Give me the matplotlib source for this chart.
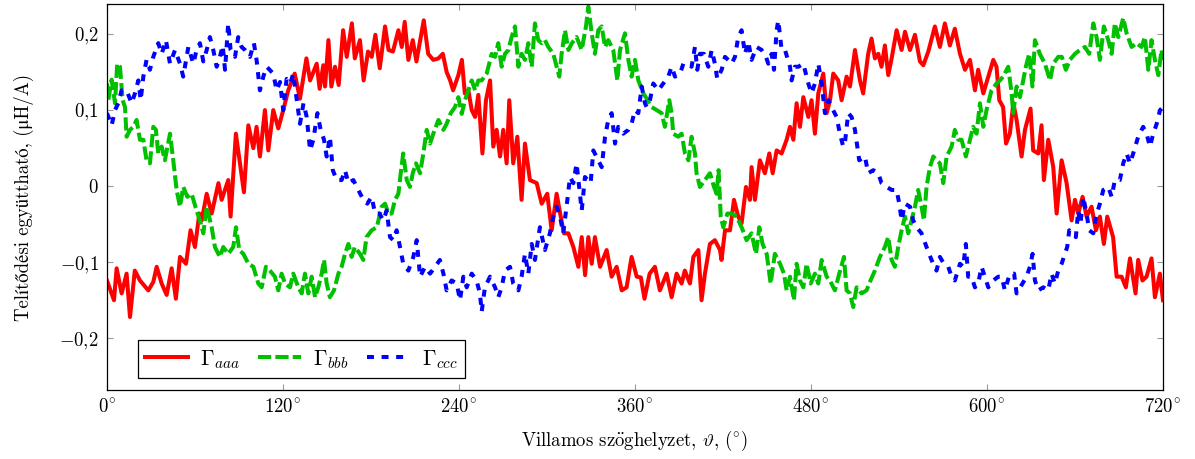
import numpy as np
import matplotlib
matplotlib.use("Agg")
import matplotlib.pyplot as plt

plt.rcParams['font.family'] = ['cmr10', 'STIXGeneral']
plt.rcParams['mathtext.fontset'] = 'cm'
plt.rcParams['axes.unicode_minus'] = False
plt.rcParams['lines.scale_dashes'] = False

# Gamma_aaa (red)
red_deg = [0, 4.8, 6.6, 10, 13.4, 15.7, 19, 22.5, 28.2, 31.6, 33.9, 37.3, 40.7, 44.1, 47, 49.8, 53.9, 57, 60, 63,
           64.6, 68, 71.4, 76, 78.2, 82.7, 84.3, 87.9, 93.4, 96.4, 99.8, 102, 104.3, 107.7, 110, 113.4, 116.8, 120.2, 123.6, 128,
           131.6, 136, 138.5, 143, 145, 147.5, 148.7, 151, 153, 155.5, 158, 161, 163.5, 167, 169, 172.5, 175, 178, 180.5, 183,
           186, 189.6, 192, 195, 198.7, 201, 203, 205.5, 208.5, 211, 216, 219, 222.5, 226, 229, 231.6, 234, 236, 239.6, 242,
           244, 246.4, 248.7, 251, 253.2, 256, 258.4, 261.2, 263.4, 265.7, 268, 270.2, 272.5, 274.3, 277, 279.8, 282.7, 285, 288.4, 293,
           296.4, 300.2, 303.2, 306.6, 309, 311.6, 314.6, 318, 321.4, 323.7, 326, 328.2, 330.5, 332.7, 336.2, 340.7, 344.1, 347.5, 351, 354.3,
           357.7, 361.2, 364, 366.5, 370, 373.6, 377, 381.6, 385, 388.4, 391.8, 394, 397.5, 399.8, 403.2, 405.4, 407.7, 411.1, 414.5, 418,
           419, 421.4, 424.8, 427.5, 430.4, 432.7, 435.7, 438.4, 439.5, 441.8, 445.2, 448.6, 451.6, 453.9, 456.6, 460, 463.4, 465.7, 468, 470.2,
           472.5, 474.8, 478.2, 480.4, 482.7, 485, 488.4, 490.7, 493, 495.2, 498.6, 500.9, 504.3, 506.6, 510, 513.4, 515.6, 519, 521.3, 523.6,
           525.9, 528.1, 530.4, 532.7, 535, 538.4, 541.8, 544.1, 547.5, 550.9, 554.3, 556.6, 560, 564.5, 567.9, 571.3, 574.7, 578.1, 581.6, 585,
           588.4, 591.8, 594, 597.5, 600.9, 604.3, 606.5, 608.4, 611, 613, 615.6, 618, 620.2, 623.6, 625.9, 629.7, 631.5, 635, 637.2, 638.8,
           641.8, 645.2, 647.5, 650.9, 654.3, 657.7, 660, 662.2, 665.2, 667.9, 671.3, 674.3, 677, 679.7, 682, 686, 688.4, 691.8, 694.7, 697.5,
           701.3, 703.1, 706, 708.8, 712.2, 714.5, 717.9, 720]
red_val = [-0.124, -0.150, -0.108, -0.141, -0.115, -0.172, -0.111, -0.124, -0.137, -0.126, -0.106, -0.128, -0.143, -0.108, -0.148, -0.093, -0.102, -0.058, -0.080, -0.036,
           -0.045, -0.010, -0.036, 0.004, -0.018, 0.008, -0.040, 0.069, -0.008, 0.080, 0.050, 0.078, 0.039, 0.100, 0.047, 0.100, 0.076, 0.100, 0.126, 0.148,
           0.115, 0.168, 0.139, 0.161, 0.128, 0.159, 0.131, 0.192, 0.131, 0.157, 0.133, 0.205, 0.170, 0.214, 0.168, 0.192, 0.139, 0.177, 0.170, 0.199,
           0.155, 0.210, 0.179, 0.177, 0.205, 0.183, 0.216, 0.166, 0.192, 0.164, 0.218, 0.174, 0.166, 0.168, 0.174, 0.150, 0.139, 0.126, 0.146, 0.166,
           0.122, 0.126, 0.100, 0.091, 0.120, 0.043, 0.113, 0.139, 0.052, 0.074, 0.039, 0.074, 0.030, 0.113, 0.030, 0.065, -0.018, 0.056, 0.008, 0.004,
           -0.023, -0.010, -0.058, -0.010, -0.036, -0.062, -0.062, -0.080, -0.106, -0.067, -0.117, -0.067, -0.102, -0.067, -0.106, -0.084, -0.119, -0.106, -0.137, -0.133,
           -0.093, -0.119, -0.120, -0.148, -0.115, -0.106, -0.137, -0.115, -0.146, -0.115, -0.128, -0.111, -0.128, -0.093, -0.084, -0.150, -0.115, -0.076, -0.071, -0.084,
           -0.097, -0.058, -0.058, -0.018, -0.040, -0.049, -0.001, -0.018, 0.025, -0.018, 0.034, 0.017, 0.043, 0.017, 0.047, 0.043, 0.061, 0.078, 0.061, 0.109,
           0.078, 0.117, 0.091, 0.113, 0.069, 0.122, 0.148, 0.096, 0.113, 0.148, 0.139, 0.113, 0.144, 0.131, 0.179, 0.139, 0.122, 0.174, 0.194, 0.168,
           0.174, 0.157, 0.185, 0.146, 0.168, 0.205, 0.179, 0.203, 0.179, 0.199, 0.164, 0.159, 0.177, 0.210, 0.183, 0.214, 0.185, 0.207, 0.174, 0.153,
           0.166, 0.126, 0.153, 0.122, 0.144, 0.166, 0.157, 0.113, 0.104, 0.056, 0.069, 0.109, 0.087, 0.039, 0.074, 0.102, 0.047, 0.043, 0.080, 0.008,
           0.061, 0.025, -0.036, 0.034, 0.004, -0.045, -0.018, -0.036, -0.014, -0.040, -0.027, -0.058, -0.040, -0.076, -0.040, -0.067, -0.119, -0.119, -0.133, -0.095,
           -0.141, -0.097, -0.124, -0.119, -0.095, -0.146, -0.115, -0.150]

# Gamma_bbb (green)
green_deg = [0, 0.9, 3.2, 5.5, 7, 8.9, 10.7, 12.3, 13.4, 15.7, 18, 20.2, 22.5, 24.8, 27, 29.3, 31.6, 33.4, 35, 37.3,
             39.5, 43, 45.2, 47.5, 49.8, 52, 54.8, 57.7, 61.1, 63.4, 65.7, 68, 71.4, 73.6, 77, 79.3, 82.7, 86.1, 88, 90.2,
             93, 96.4, 99.8, 103.2, 105.5, 108.4, 111.1, 114.5, 116.8, 119.1, 121.4, 124.8, 127, 130.5, 132.8, 135, 137.3, 139.6, 141.9, 144.1,
             146.4, 148, 149.8, 152, 154.8, 157.8, 160, 162.3, 164.6, 166.8, 169, 172.5, 174.8, 177, 180.5, 184, 187.3, 189.6, 191.9, 194.1,
             196.4, 198.7, 200.3, 202, 204.4, 206.6, 208.5, 210.7, 213.5, 215.7, 218, 220.3, 222.5, 226, 229.4, 231.6, 234.4, 237.3, 239.6, 241.9,
             244.1, 246.4, 248.7, 251, 253.2, 255.5, 258.9, 262.3, 264.6, 266.8, 269.1, 271.4, 273.7, 275.9, 278.2, 280.5, 282.7, 285, 287.3, 289.6,
             291.8, 294.1, 296.4, 298.6, 300.9, 304.3, 306.6, 308.4, 310, 312.3, 314.6, 317, 320.2, 323.7, 326.6, 328.2, 330.5, 332.7, 335, 337.3,
             339.6, 341.8, 345.2, 348, 349.8, 353.2, 355.5, 357.7, 360, 362.3, 365.7, 368, 371.4, 374.8, 378.2, 380.4, 383.4, 385, 386.1, 389.5,
             391.8, 394.1, 396.4, 398.6, 400.9, 402, 404.3, 407.7, 411.1, 413.9, 415.7, 417, 418.5, 420.2, 423, 425.9, 429.3, 432.7, 436.1, 439.5,
             442.5, 444.8, 447, 449.8, 452.5, 455.4, 458.9, 461.6, 463.4, 465.7, 468.4, 470.2, 472.5, 474.8, 477, 479.8, 482.7, 485, 487.3, 490.7,
             492.9, 496.3, 499.3, 502.5, 504.3, 506.6, 508.8, 511.1, 514.5, 517.9, 520.6, 523.6, 527, 530.4, 532.7, 535, 537.2, 539.5, 541.8, 544.1,
             546.3, 548.6, 550.9, 553.1, 555.4, 557, 558.8, 561.1, 563.4, 565.6, 567.9, 570.2, 572.5, 575.9, 578.1, 580.4, 582.7, 585.6, 588.4, 590.6,
             592.9, 595.2, 597.5, 599.7, 603.1, 606.5, 608.8, 611, 614.5, 616.8, 617.9, 620.2, 622.5, 624.3, 626.5, 628.8, 631, 632.7, 636, 639.5,
             643, 645.2, 648.6, 651, 653.8, 656.5, 660, 663.4, 666.8, 669.7, 672.5, 674.7, 677, 679.7, 682.7, 685, 687.2, 689.5, 692.9, 695.2,
             698.6, 702, 705.4, 707.7, 710, 712.2, 714.5, 716.8, 719, 720]
green_val = [0.135, 0.113, 0.140, 0.109, 0.161, 0.157, 0.113, 0.104, 0.065, 0.074, 0.078, 0.087, 0.061, 0.061, 0.034, 0.030, 0.078, 0.074, 0.043, 0.052,
             0.034, 0.069, 0.034, -0.005, -0.027, -0.001, -0.014, -0.010, -0.032, -0.045, -0.062, -0.027, -0.054, -0.080, -0.093, -0.080, -0.089, -0.080, -0.054, -0.084,
             -0.089, -0.102, -0.106, -0.128, -0.133, -0.106, -0.111, -0.119, -0.137, -0.115, -0.128, -0.133, -0.115, -0.133, -0.141, -0.115, -0.141, -0.119, -0.146, -0.133,
             -0.115, -0.097, -0.128, -0.146, -0.137, -0.115, -0.106, -0.089, -0.076, -0.093, -0.080, -0.089, -0.097, -0.067, -0.058, -0.054, -0.027, -0.023, -0.036, -0.036,
             -0.018, -0.010, 0.017, 0.043, 0.008, -0.001, 0.017, 0.030, 0.017, 0.043, 0.074, 0.056, 0.069, 0.087, 0.074, 0.082, 0.096, 0.104, 0.117, 0.095,
             0.113, 0.126, 0.139, 0.126, 0.139, 0.139, 0.148, 0.174, 0.170, 0.188, 0.157, 0.174, 0.179, 0.196, 0.210, 0.157, 0.174, 0.166, 0.188, 0.157,
             0.214, 0.192, 0.188, 0.192, 0.183, 0.174, 0.157, 0.144, 0.174, 0.205, 0.179, 0.188, 0.196, 0.179, 0.210, 0.236, 0.201, 0.174, 0.205, 0.210,
             0.183, 0.192, 0.179, 0.139, 0.179, 0.201, 0.166, 0.144, 0.166, 0.139, 0.122, 0.115, 0.104, 0.100, 0.096, 0.078, 0.113, 0.096, 0.069, 0.065,
             0.069, 0.043, 0.034, 0.065, 0.043, 0.017, -0.001, 0.008, 0.017, -0.001, -0.010, 0.021, -0.040, -0.054, -0.036, -0.036, -0.040, -0.054, -0.071, -0.062,
             -0.089, -0.054, -0.076, -0.089, -0.128, -0.089, -0.102, -0.115, -0.137, -0.119, -0.150, -0.102, -0.124, -0.133, -0.102, -0.128, -0.115, -0.128, -0.097, -0.119,
             -0.124, -0.137, -0.115, -0.093, -0.137, -0.141, -0.159, -0.133, -0.141, -0.137, -0.124, -0.111, -0.093, -0.080, -0.067, -0.097, -0.106, -0.080, -0.058, -0.040,
             -0.062, -0.045, -0.027, -0.005, -0.027, -0.045, -0.001, 0.025, 0.039, 0.034, 0.030, 0.004, 0.039, 0.052, 0.074, 0.061, 0.061, 0.039, 0.061, 0.078,
             0.069, 0.109, 0.078, 0.100, 0.126, 0.135, 0.139, 0.144, 0.157, 0.122, 0.096, 0.131, 0.117, 0.135, 0.157, 0.174, 0.131, 0.192, 0.174, 0.161,
             0.139, 0.161, 0.170, 0.170, 0.153, 0.166, 0.174, 0.179, 0.183, 0.174, 0.214, 0.196, 0.166, 0.210, 0.192, 0.174, 0.214, 0.196, 0.221, 0.201,
             0.183, 0.188, 0.183, 0.196, 0.153, 0.192, 0.166, 0.146, 0.179, 0.166]

# Gamma_ccc (blue)
blue_deg = [0, 3.2, 5.5, 7.7, 10, 13.4, 16.8, 19.1, 21.4, 23, 24.8, 27, 29.3, 31.6, 35, 37.3, 40.2, 43, 46.4, 49.8,
            52, 55.5, 58.9, 61.1, 63.4, 65.7, 68, 70.2, 72.5, 74.8, 77, 78.9, 80.5, 82.7, 84.3, 87.3, 89.5, 91.8, 94.1, 97.5,
            100.2, 102, 104.3, 106.6, 108.9, 113.4, 115.7, 118, 120.2, 122.5, 125, 127, 128.2, 129.4, 131.6, 134, 136.2, 138.5, 140.7, 143.5,
            145.7, 148, 149.8, 152, 154, 156.6, 160, 162.3, 164.6, 168, 171.4, 174.8, 177.5, 180.5, 182.8, 185.7, 188.5, 190.7, 193, 195.3,
            197.5, 199.8, 202, 205.5, 208.9, 211.2, 213.5, 216.9, 220.3, 223.7, 227, 229.4, 231.6, 235, 238.5, 240.7, 243, 245.3, 248.7, 252,
            254.3, 255.5, 257.7, 261.2, 264.6, 266.8, 269.1, 271.4, 274.8, 277, 280.5, 282.7, 285, 287.3, 289.6, 291.8, 295.2, 298.6, 302, 304.3,
            306.6, 308.9, 311.1, 313.9, 315.7, 318, 320.2, 322.5, 323.7, 325.9, 329.8, 331.6, 335, 337.3, 339.6, 341.8, 344.1, 346.4, 348.6, 352,
            355.5, 357.7, 360, 362.3, 364.6, 366.8, 368, 370.2, 372.5, 375.9, 379.3, 382.7, 385, 387.3, 390.7, 393, 395.3, 398.6, 400.9, 402.5,
            404.3, 407, 410, 412.3, 414.5, 416.1, 419.1, 421.4, 423.6, 425.9, 428.2, 430.4, 432.7, 435, 437.3, 439.5, 442.9, 446.4, 449.3, 450.9,
            453.2, 454.8, 456.6, 457.7, 460, 462.3, 465.7, 466.8, 469, 471.4, 474.8, 477, 478.2, 480.4, 482.7, 485, 487.3, 489.5, 491.8, 494,
            497.5, 499.7, 502, 503.1, 505.4, 507.7, 510, 511.6, 512.9, 516.8, 519, 522.5, 525.9, 528.1, 531.6, 535, 538.4, 540.2, 541.8, 544.1,
            547.5, 549.7, 552, 555.4, 558.8, 562.2, 565.6, 567.9, 570.6, 573.6, 575.9, 578.1, 581.6, 583.8, 585.6, 587.2, 589.5, 591.8, 594, 596.3,
            598.6, 600.9, 604.3, 607.7, 610, 612.2, 615.6, 618.5, 620.2, 623.6, 627, 629.3, 631.1, 632.7, 635, 638.4, 641.8, 644, 646.3, 648.6,
            650.9, 653.1, 654.7, 656.1, 658.4, 660.6, 662.2, 663.8, 665.6, 667.9, 669.7, 672.5, 674.3, 677, 679.3, 682.7, 685, 687.2, 690.6, 692.9,
            695.2, 697.5, 699.7, 703.1, 706.5, 708.8, 711.1, 713.4, 715.7, 718, 720]
blue_val = [0.096, 0.080, 0.100, 0.109, 0.126, 0.126, 0.109, 0.122, 0.139, 0.113, 0.144, 0.166, 0.153, 0.170, 0.188, 0.174, 0.192, 0.161, 0.179, 0.161,
            0.144, 0.183, 0.161, 0.179, 0.188, 0.164, 0.179, 0.196, 0.179, 0.157, 0.170, 0.185, 0.153, 0.214, 0.179, 0.170, 0.196, 0.183, 0.179, 0.170,
            0.188, 0.166, 0.126, 0.144, 0.157, 0.148, 0.126, 0.137, 0.100, 0.141, 0.135, 0.148, 0.131, 0.113, 0.082, 0.109, 0.091, 0.047, 0.061, 0.096,
            0.074, 0.061, 0.039, 0.065, 0.021, 0.008, 0.008, 0.021, 0.004, 0.008, -0.005, -0.018, -0.023, -0.014, -0.036, -0.036, -0.045, -0.032, -0.067, -0.071,
            -0.058, -0.080, -0.102, -0.111, -0.093, -0.071, -0.119, -0.106, -0.115, -0.106, -0.097, -0.115, -0.137, -0.124, -0.128, -0.150, -0.119, -0.133, -0.115, -0.124,
            -0.141, -0.165, -0.133, -0.119, -0.133, -0.146, -0.133, -0.111, -0.106, -0.128, -0.137, -0.119, -0.089, -0.115, -0.076, -0.097, -0.054, -0.084, -0.062, -0.040,
            -0.027, -0.040, -0.062, -0.018, 0.012, 0.004, 0.030, -0.010, -0.032, 0.012, 0.004, 0.047, 0.034, 0.025, 0.065, 0.087, 0.096, 0.056, 0.078, 0.069,
            0.074, 0.082, 0.100, 0.096, 0.131, 0.109, 0.104, 0.113, 0.135, 0.126, 0.135, 0.144, 0.157, 0.144, 0.148, 0.161, 0.161, 0.157, 0.183, 0.153,
            0.174, 0.174, 0.157, 0.179, 0.161, 0.141, 0.153, 0.170, 0.166, 0.161, 0.170, 0.196, 0.205, 0.174, 0.190, 0.166, 0.183, 0.179, 0.170, 0.161,
            0.174, 0.153, 0.205, 0.218, 0.179, 0.179, 0.157, 0.139, 0.157, 0.157, 0.161, 0.144, 0.135, 0.122, 0.135, 0.161, 0.135, 0.096, 0.113, 0.104,
            0.091, 0.069, 0.052, 0.056, 0.096, 0.091, 0.074, 0.052, 0.034, 0.039, 0.017, 0.021, 0.017, 0.004, -0.001, -0.005, -0.005, -0.023, -0.045, -0.023,
            -0.027, -0.045, -0.054, -0.062, -0.080, -0.097, -0.111, -0.093, -0.102, -0.106, -0.119, -0.124, -0.102, -0.106, -0.076, -0.119, -0.119, -0.133, -0.128, -0.106,
            -0.119, -0.133, -0.124, -0.119, -0.119, -0.137, -0.115, -0.115, -0.141, -0.130, -0.119, -0.106, -0.089, -0.124, -0.137, -0.133, -0.137, -0.115, -0.128, -0.111,
            -0.102, -0.089, -0.080, -0.058, -0.062, -0.067, -0.032, -0.049, -0.014, -0.036, -0.058, -0.062, -0.040, -0.023, -0.005, -0.001, -0.014, 0.008, 0.008, 0.030,
            0.043, 0.030, 0.043, 0.065, 0.078, 0.069, 0.052, 0.069, 0.082, 0.100, 0.104]

xticks = [0, 120, 240, 360, 480, 600, 720]
xtick_labels = [r'$0^{\!\circ}$', r'$120^{\!\circ}$', r'$240^{\!\circ}$', r'$360^{\!\circ}$',
                r'$480^{\!\circ}$', r'$600^{\!\circ}$', r'$720^{\!\circ}$']
yticks = [-0.2, -0.1, 0, 0.1, 0.2]
ytick_labels = [r'$-0{,}2$', r'$-0{,}1$', r'$0$', r'$0{,}1$', r'$0{,}2$']

fig = plt.figure(figsize=(11.95, 4.59), dpi=100)
ax = fig.add_axes([0.0895, 0.1503, 0.8837, 0.841])

ax.plot(red_deg, red_val, color='#ff0000', lw=2.9, label=r'$\Gamma_{aaa}$')
ax.plot(green_deg, green_val, color='#00c000', lw=2.9, linestyle=(0, (9.5, 3.0)), label=r'$\Gamma_{bbb}$')
ax.plot(blue_deg, blue_val, color='#0000ff', lw=2.9, linestyle=(0, (5.0, 5.5)), label=r'$\Gamma_{ccc}$')

ax.set_xlim(0, 720)
ax.set_ylim(-0.268, 0.2395)
ax.set_xticks(xticks)
ax.set_xticklabels(xtick_labels)
ax.set_yticks(yticks)
ax.set_yticklabels(ytick_labels)
ax.tick_params(direction='in', length=4.5, width=0.8, color='#999999', labelsize=13.5,
               top=True, right=True, pad=6)
for s in ax.spines.values():
    s.set_linewidth(0.9)

# whole string goes through mathtext here, so the umlaut is written as a math accent
ax.set_xlabel(r'Villamos sz$\ddot{\rm o}$ghelyzet, $\vartheta$, ($^{\circ}$)', fontsize=13.5, labelpad=9)
ax.set_ylabel('Telítődési együttható, (\u03bcH/A)', fontsize=13.5, labelpad=18)

leg = ax.legend(loc='lower left', bbox_to_anchor=(0.029, 0.031), borderaxespad=0, ncol=3, fontsize=15.5,
                frameon=True, fancybox=False, edgecolor='black', framealpha=1,
                handlelength=2.0, columnspacing=0.85, handletextpad=0.55, borderpad=0.35)
leg.get_frame().set_linewidth(0.9)

plt.savefig('out.png', dpi=100)
